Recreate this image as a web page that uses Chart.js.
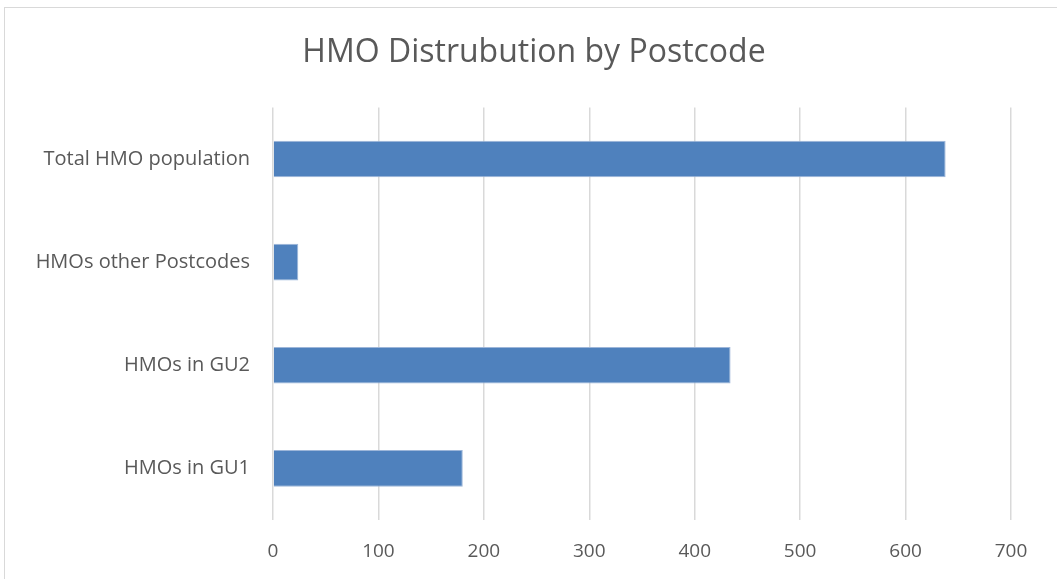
<!DOCTYPE html>
<html>
<head>
<meta charset="utf-8">
<script src="https://cdn.jsdelivr.net/npm/chart.js@4"></script>
<style>
  html, body { margin: 0; padding: 0; background: #fff; overflow: hidden; }
  #frame { position: absolute; left: 4px; top: 7px; width: 1070px; height: 590px; border: 1px solid #d9d9d9; }
  #wrap { position: absolute; left: 0; top: 0; width: 1057px; height: 579px; }
</style>
</head>
<body>
<div id="frame"></div>
<div id="wrap"><canvas id="hmoChart"></canvas></div>
<script>
// categories top to bottom, as in the picture
const categories = ['Total HMO population', 'HMOs other Postcodes', 'HMOs in GU2', 'HMOs in GU1'];
const hmoCounts = [638, 24, 434, 180];
const xTicks = [0, 100, 200, 300, 400, 500, 600, 700];

// the left padding centres the title; let the long y labels use that room
const labelRoom = {
  id: 'labelRoom',
  afterLayout(chart) { chart.scales.y.left = 0; },
};

const ctx = document.getElementById('hmoChart').getContext('2d');
const hmoChart = new Chart(ctx, {
  type: 'bar',
  data: {
    labels: categories,
    datasets: [
      {
        label: 'HMOs',
        data: hmoCounts,
        backgroundColor: '#4f81bd',
        borderColor: '#9db6d9',
        borderWidth: 1,
        categoryPercentage: 1,
        barPercentage: 0.355,
      },
    ],
  },
  options: {
    indexAxis: 'y',
    responsive: true,
    maintainAspectRatio: false,
    animation: false,
    layout: { padding: { top: 12, right: 46, bottom: 0, left: 57 } },
    plugins: {
      legend: { display: false },
      tooltip: { enabled: false },
      title: {
        display: true,
        text: 'HMO Distrubution by Postcode',
        color: '#595959',
        font: { family: 'Open Sans', size: 32, weight: 'normal' },
        padding: { top: 22, bottom: 35 },
      },
    },
    scales: {
      x: {
        min: 0,
        max: 700,
        afterBuildTicks: (scale) => { scale.ticks = xTicks.map(v => ({ value: v })); },
        afterFit: (scale) => { scale.height = 59; },
        grid: { color: '#d9d9d9', lineWidth: 1.5, drawTicks: false },
        border: { display: false },
        ticks: { color: '#595959', padding: 20, font: { family: 'Open Sans', size: 19 } },
      },
      y: {
        grid: { display: false, drawTicks: false },
        border: { display: false },
        afterFit: (scale) => { scale.width = 216; },
        ticks: { color: '#595959', padding: 23, font: { family: 'Open Sans', size: 20 } },
      },
    },
  },
  plugins: [labelRoom],
});
</script>
</body>
</html>
